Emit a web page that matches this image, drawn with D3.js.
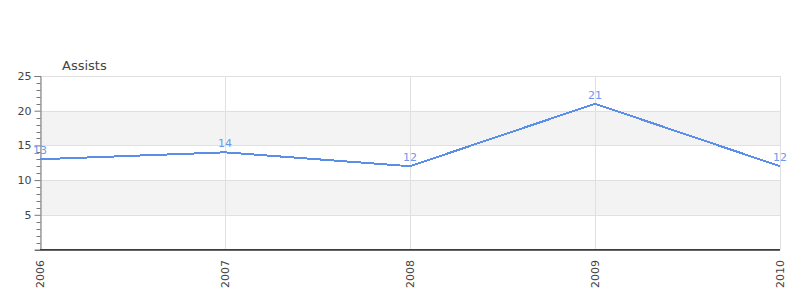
<!DOCTYPE html>
<html><head><meta charset="utf-8">
<script src="https://cdn.jsdelivr.net/npm/d3@7"></script>
<style>body{margin:0;background:#fff}svg{display:block}text{font-family:"DejaVu Sans",sans-serif}</style>
</head><body><svg id="c" width="800" height="300"></svg>
<script>
const years = ["2006","2007","2008","2009","2010"];
const assists = [13,14,12,21,12];
const yTicks = [5,10,15,20,25];
const title = "Assists";

const svg = d3.select("#c");
const m = {l:40, r:780, t:76, b:249.5};
const x = d3.scalePoint().domain(years).range([m.l, m.r]);
const y = d3.scaleLinear().domain([0,25]).range([m.b, m.t]);

// alternating bands
const bands = [[5,10],[15,20]];
svg.selectAll("rect.band").data(bands).enter().append("rect")
  .attr("x", m.l).attr("width", m.r-m.l)
  .attr("y", d=>y(d[1])).attr("height", d=>y(d[0])-y(d[1]))
  .attr("fill","#f3f3f3");

// horizontal grid
svg.selectAll("line.hg").data(yTicks).enter().append("line")
  .attr("x1", m.l).attr("x2", m.r)
  .attr("y1", d=>Math.round(y(d))+0.5).attr("y2", d=>Math.round(y(d))+0.5)
  .attr("stroke","#e0e0e0");
// vertical grid
svg.selectAll("line.vg").data(years).enter().append("line")
  .attr("x1", d=>Math.round(x(d))+0.5).attr("x2", d=>Math.round(x(d))+0.5)
  .attr("y1", m.t).attr("y2", m.b)
  .attr("stroke","#e0e0e0");

// y axis
const yAxis = d3.axisLeft(y).tickValues(yTicks).tickSize(6).tickPadding(3);
const gy = svg.append("g").attr("transform",`translate(${m.l+0.5},0)`).call(yAxis);
gy.select(".domain").attr("stroke","#777");
gy.selectAll(".tick line").attr("stroke","#777");
gy.selectAll(".tick text").attr("fill","#444").style("font-size","11px");
// minor ticks
const minor = d3.range(1,25).filter(v=>v%5!==0);
gy.selectAll("line.minor").data(minor).enter().append("line")
  .attr("x1",-4).attr("x2",0)
  .attr("y1", d=>Math.round(y(d))+0.5).attr("y2", d=>Math.round(y(d))+0.5)
  .attr("stroke","#777");

// x axis
const xAxis = d3.axisBottom(x).tickSize(0).tickPadding(0);
const gx = svg.append("g").attr("transform",`translate(0,${m.b+0.5})`).call(xAxis);
gx.select(".domain").remove();
gx.selectAll(".tick text").attr("fill","#444").style("font-size","11px")
  .attr("text-anchor","end").attr("transform","rotate(-90)")
  .attr("x",-10).attr("y",0).attr("dy","0.35em");
svg.append("line").attr("x1",35).attr("x2",m.r).attr("y1",250.5).attr("y2",250.5).attr("stroke","#666");
svg.append("line").attr("x1",m.l).attr("x2",m.r).attr("y1",y(0)).attr("y2",y(0)).attr("stroke","#cc0000").attr("stroke-width",1);

// line
const line = d3.line().x((d,i)=>x(years[i])).y(d=>y(d));
svg.append("path").datum(assists).attr("d",line)
  .attr("fill","none").attr("stroke","#5b8ee6").attr("stroke-width",2)
  .attr("shape-rendering","crispEdges");

// labels
svg.selectAll("text.lbl").data(assists).enter().append("text")
  .attr("x",(d,i)=>x(years[i])).attr("y",d=>y(d)-5)
  .attr("text-anchor","middle").attr("fill","#6a9af0").style("font-size","11px")
  .text(d=>d);

svg.append("text").attr("x",62).attr("y",70).attr("fill","#444").style("font-size","13px").text(title);
</script></body></html>
